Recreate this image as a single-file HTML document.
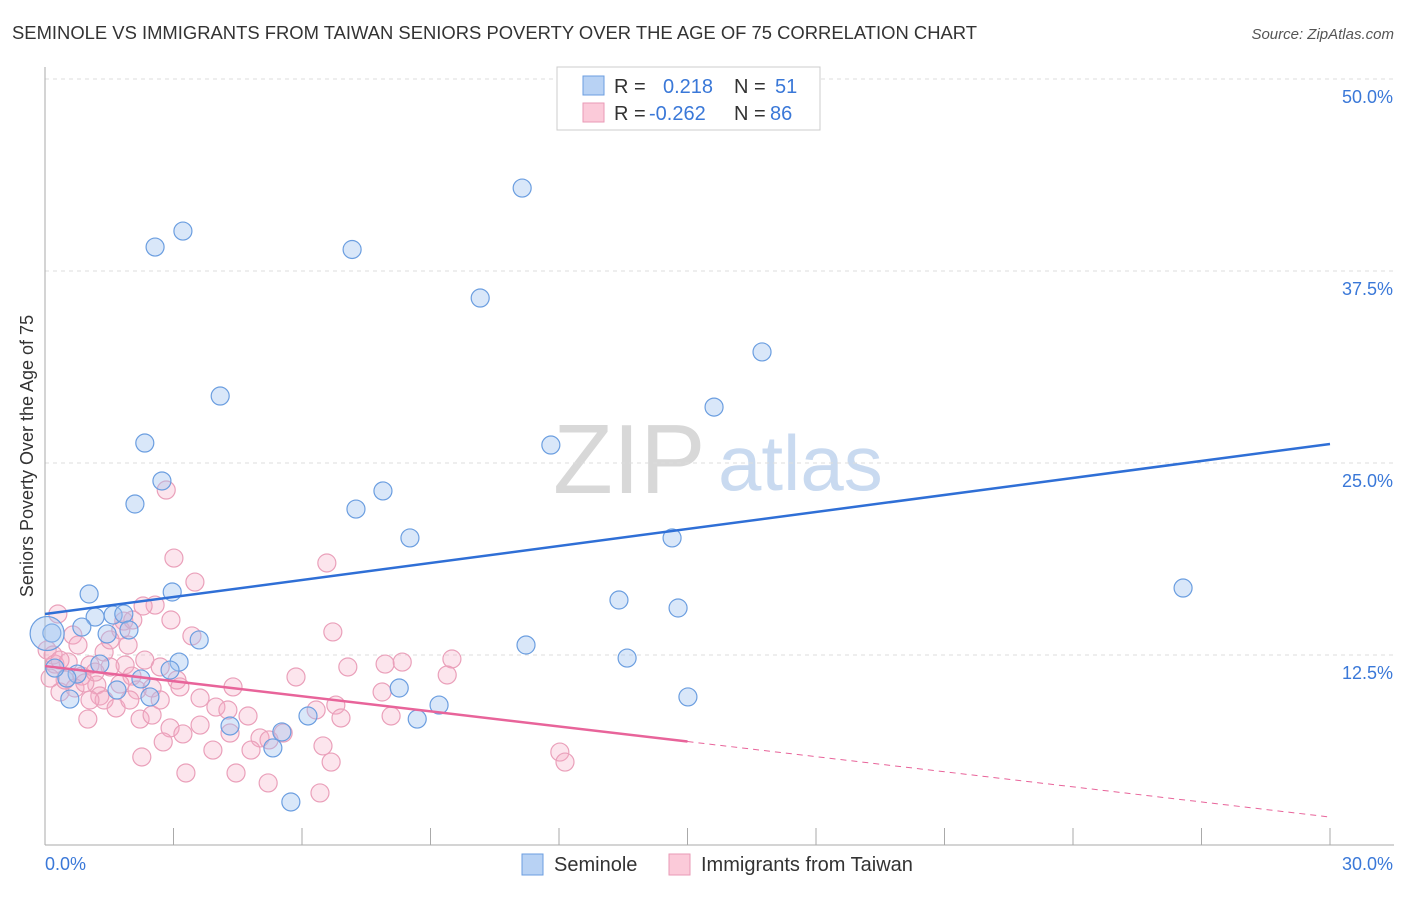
<!DOCTYPE html>
<html><head><meta charset="utf-8"><style>
body{margin:0;background:#fff;font-family:"Liberation Sans",sans-serif;}
svg text{font-family:"Liberation Sans",sans-serif;}
</style></head><body>
<svg id="chart" width="1406" height="892">
<text x="12" y="39" font-size="18" fill="#333" textLength="965" lengthAdjust="spacingAndGlyphs">SEMINOLE VS IMMIGRANTS FROM TAIWAN SENIORS POVERTY OVER THE AGE OF 75 CORRELATION CHART</text>
<text x="1394" y="39" font-size="15" fill="#555" text-anchor="end" font-style="italic">Source: ZipAtlas.com</text>
<text transform="translate(33,456) rotate(-90)" font-size="18" fill="#333" text-anchor="middle">Seniors Poverty Over the Age of 75</text>
<g id="wm">
<text x="553" y="493" font-size="98" fill="#d8d8d8" font-family="Liberation Serif">ZIP</text>
<text x="718" y="490" font-size="78" fill="#c9daf0">atlas</text>
</g>
<g id="grid"></g><g id="axes"></g><g id="pts"></g><g id="trend"></g>
<g>
<rect x="557" y="67" width="263" height="63" fill="#fff" stroke="#ccc"/>
<rect x="583" y="76" width="21" height="19" fill="#b8d2f4" stroke="#6b9ee0"/>
<rect x="583" y="103" width="21" height="19" fill="#fbcad9" stroke="#e99ab6"/>
<text x="614" y="93" font-size="20" fill="#333">R =<tspan x="663" fill="#3a78d8">0.218</tspan><tspan x="734" fill="#333">N =</tspan><tspan x="775" fill="#3a78d8">51</tspan></text>
<text x="614" y="120" font-size="20" fill="#333">R =<tspan x="649" fill="#3a78d8">-0.262</tspan><tspan x="734" fill="#333">N =</tspan><tspan x="770" fill="#3a78d8">86</tspan></text>
</g>
<g>
<rect x="522" y="854" width="21" height="21" fill="#b8d2f4" stroke="#6b9ee0"/>
<text x="554" y="871" font-size="20" fill="#333">Seminole</text>
<text x="701" y="871" font-size="20" fill="#333">Immigrants from Taiwan</text>
<rect x="669" y="854" width="21" height="21" fill="#fbcad9" stroke="#e99ab6"/>
</g>
</svg>
<script>
const yTicks=[12.5,25,37.5,50];
const yTickLabels=["12.5%","25.0%","37.5%","50.0%"];
const xTicks=[0,3,6,9,12,15,18,21,24,27,30];
const blueX=[2.57,3.22,7.17,11.14,10.16,4.09,2.33,2.73,2.10,7.89,7.26,8.52,11.81,15.62,16.74,14.64,13.40,14.78,26.57,11.23,13.59,15.01,1.03,2.97,1.17,0.86,1.59,1.84,1.45,1.96,3.60,3.13,2.92,1.28,0.75,0.51,0.23,0.16,0.58,1.68,2.24,2.45,4.32,5.32,5.53,6.14,5.74,8.27,9.20,8.69,0.05];
const blueY=[39.06,40.1,38.9,42.9,35.74,29.36,26.3,23.83,22.33,23.18,22.0,20.12,26.17,28.64,32.23,20.12,16.08,15.56,16.86,13.15,12.30,9.77,16.47,16.60,14.97,14.32,15.10,15.17,13.87,14.13,13.48,12.04,11.52,11.91,11.26,11.0,11.65,13.93,9.63,10.22,10.94,9.77,7.88,6.45,7.49,8.53,2.93,10.35,9.24,8.33,13.9];
const pinkX=[2.83,3.01,3.50,6.58,0.30,2.57,2.29,1.84,1.77,2.05,2.94,3.43,6.72,0.65,0.05,0.19,0.23,1.38,1.05,1.87,2.33,2.69,3.08,0.54,0.86,1.21,1.52,2.03,2.15,2.50,3.15,4.39,5.86,7.07,7.94,8.34,9.50,9.39,7.87,6.79,6.33,6.91,8.08,0.35,0.70,1.28,1.38,1.66,1.0,2.22,2.50,2.92,3.22,3.62,3.99,4.27,4.74,4.32,5.02,3.92,4.81,5.23,5.56,6.49,6.68,2.76,2.26,3.29,4.46,5.21,6.42,12.02,12.14,0.47,0.93,1.17,1.75,0.12,0.77,1.52,1.94,3.62,2.69,1.98,1.05,0.35];
const pinkY=[23.24,18.81,17.25,18.49,15.17,15.75,15.69,14.71,14.13,14.78,14.78,13.74,14.0,13.80,12.82,12.50,11.91,12.69,11.85,11.85,12.17,11.72,10.87,12.04,11.13,10.55,11.72,11.13,10.22,10.35,10.42,10.42,11.07,11.72,11.91,12.04,12.24,11.20,10.09,9.24,8.92,8.40,8.53,10.09,10.35,9.83,9.57,9.05,8.33,8.33,8.59,7.75,7.36,7.94,9.11,8.92,8.53,7.42,7.10,6.31,6.31,6.97,7.42,6.58,5.53,6.84,5.86,4.82,4.82,4.17,3.52,6.18,5.53,10.87,10.68,11.39,10.61,11.0,13.15,13.48,13.15,9.70,9.57,9.57,9.57,12.17];
const blueTrend=[15.17,26.24];
const pinkTrend=[11.78,1.95];
const pinkSolidEnd=15;

const X0=45,X1=1330,Y0=847,YTOP=79;
const sx=v=>X0+(v/30)*(X1-X0);
const sy=v=>Y0-(v/50)*(Y0-YTOP);
const NS="http://www.w3.org/2000/svg";
function mk(tag,attrs,parent){const e=document.createElementNS(NS,tag);for(const k in attrs)e.setAttribute(k,attrs[k]);parent.appendChild(e);return e;}
const grid=document.getElementById('grid'),axes=document.getElementById('axes'),pts=document.getElementById('pts'),tr=document.getElementById('trend');
yTicks.forEach((t,i)=>{
 const l=mk('line',{x1:X0,x2:1394,y1:sy(t),y2:sy(t),stroke:'#ddd','stroke-dasharray':'4,4'},grid);
 
 
 const tx=mk('text',{x:1393,y:sy(t)+24,'font-size':18,fill:'#3a78d8','text-anchor':'end'},axes);
 tx.textContent=yTickLabels[i];
 
 
});
const ax=mk('line',{x1:X0,x2:X0,y1:67,y2:845,stroke:'#aaa'},axes);


const bx=mk('line',{x1:X0,x2:1394,y1:845,y2:845,stroke:'#aaa'},axes);


xTicks.forEach(t=>{
 const l=mk('line',{x1:sx(t),x2:sx(t),y1:828,y2:845,stroke:'#aaa'},axes);
 
 
});
const xl0=mk('text',{x:45,y:870,'font-size':18,fill:'#3a78d8'},axes);xl0.textContent='0.0%';


const xl1=mk('text',{x:1393,y:870,'font-size':18,fill:'#3a78d8','text-anchor':'end'},axes);xl1.textContent='30.0%';


pinkX.forEach((v,i)=>{
 const c=mk('circle',{cx:sx(v),cy:sy(pinkY[i]),r:9,fill:'rgba(245,170,195,0.3)',stroke:'#eaa0ba','stroke-width':1.2},pts);
 
 
});
blueX.forEach((v,i)=>{
 const c=mk('circle',{cx:sx(v),cy:sy(blueY[i]),r:i==blueX.length-1?17:9,fill:'rgba(160,195,240,0.4)',stroke:'#6b9ee0','stroke-width':1.2},pts);
 
 
});
const bl=mk('line',{x1:sx(0),y1:sy(blueTrend[0]),x2:sx(30),y2:sy(blueTrend[1]),stroke:'#2f6fd6','stroke-width':2.5},tr);


const pm=pinkTrend[0]+(pinkTrend[1]-pinkTrend[0])*pinkSolidEnd/30;
const pl=mk('line',{x1:sx(0),y1:sy(pinkTrend[0]),x2:sx(pinkSolidEnd),y2:sy(pm),stroke:'#e8649a','stroke-width':2.5},tr);


const pd=mk('line',{x1:sx(pinkSolidEnd),y1:sy(pm),x2:sx(30),y2:sy(pinkTrend[1]),stroke:'#e8649a','stroke-width':1,'stroke-dasharray':'6,5'},tr);


</script>
</body></html>
